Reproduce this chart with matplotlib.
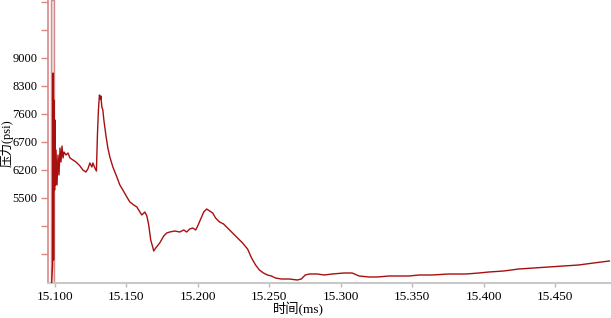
import numpy as np
import matplotlib
matplotlib.use('Agg')
import matplotlib.pyplot as plt

# pressure trace
time_ms = [15.0976, 15.0983, 15.0986, 15.0990, 15.0993, 15.0997, 15.1000, 15.1003,
           15.1007, 15.1014, 15.1021, 15.1028, 15.1035, 15.1042, 15.1049, 15.1056,
           15.1063, 15.1077, 15.1091, 15.1105, 15.1126, 15.1147, 15.1175, 15.1195,
           15.1216, 15.1230, 15.1244, 15.1258, 15.1265, 15.1279, 15.1290, 15.1297,
           15.1304, 15.1311, 15.1318, 15.1321, 15.1328, 15.1335, 15.1342, 15.1356,
           15.1370, 15.1384, 15.1405, 15.1433, 15.1454, 15.1475, 15.1503, 15.1524,
           15.1552, 15.1573, 15.1594, 15.1608, 15.1629, 15.1643, 15.1656, 15.1670,
           15.1684, 15.1691, 15.1705, 15.1733, 15.1761, 15.1782, 15.1803, 15.1838,
           15.1873, 15.1901, 15.1922, 15.1943, 15.1964, 15.1985, 15.1999, 15.2020,
           15.2041, 15.2062, 15.2083, 15.2104, 15.2124, 15.2152, 15.2180, 15.2208,
           15.2243, 15.2278, 15.2313, 15.2348, 15.2376, 15.2404, 15.2431, 15.2459,
           15.2487, 15.2515, 15.2543, 15.2585, 15.2640, 15.2696, 15.2724, 15.2752,
           15.2780, 15.2836, 15.2885, 15.2940, 15.3024, 15.3080, 15.3129, 15.3199,
           15.3255, 15.3338, 15.3408, 15.3478, 15.3548, 15.3639, 15.3757, 15.3876,
           15.3967, 15.4037, 15.4141, 15.4246, 15.4351, 15.4455, 15.4560, 15.4665,
           15.4770, 15.4881]
pressure = [3375, 3825, 8625, 3950, 7950, 5700, 7450, 5825,
            6700, 5825, 6575, 6075, 6750, 6400, 6800, 6500,
            6650, 6575, 6625, 6500, 6450, 6400, 6300, 6200,
            6150, 6225, 6375, 6275, 6375, 6250, 6175, 7075,
            7700, 8075, 7975, 8050, 7775, 7700, 7450, 7075,
            6750, 6525, 6275, 6025, 5825, 5700, 5525, 5400,
            5325, 5275, 5150, 5075, 5150, 5050, 4825, 4450,
            4275, 4175, 4250, 4375, 4550, 4625, 4650, 4675,
            4650, 4700, 4650, 4725, 4750, 4700, 4800, 4975,
            5150, 5225, 5175, 5125, 5000, 4900, 4850, 4750,
            4625, 4500, 4375, 4225, 4000, 3825, 3700, 3625,
            3575, 3550, 3500, 3475, 3475, 3450, 3475, 3575,
            3600, 3600, 3575, 3600, 3625, 3625, 3550, 3525,
            3525, 3550, 3550, 3550, 3575, 3575, 3600, 3600,
            3625, 3650, 3675, 3725, 3750, 3775, 3800, 3825,
            3875, 3925]

# axis ticks (equally spaced, labels as printed on the original)
y_ticks = [10400, 9700, 9000, 8300, 7600, 6900, 6200, 5500, 4800, 4100]
y_labels = ['', '', '9000', '8300', '7600', '6700', '6200', '5500', '', '']
x_ticks = [15.10, 15.15, 15.20, 15.25, 15.30, 15.35, 15.40, 15.45]
x_labels = ['15.100', '15.150', '15.200', '15.250', '15.300', '15.350', '15.400', '15.450']

fonts = ['Liberation Serif', 'Noto Sans CJK SC']
pink = '#d98888'

fig = plt.figure(figsize=(6.11, 3.18), dpi=100)
ax = fig.add_axes([48 / 611, 35 / 318, 1 - 48 / 611, 1 - 35 / 318])

ax.axvspan(15.0974, 15.0995, facecolor='#e6e6e6', edgecolor=pink, lw=1.0, zorder=1)
ax.plot(time_ms, pressure, color='#a80f0f', lw=1.0, zorder=3)

ax.set_xlim(15.0951, 15.4892)
ax.set_ylim(3375, 10450)

ax.set_yticks(y_ticks)
ax.set_yticklabels(y_labels, fontfamily=fonts, fontsize=9)
ax.set_xticks(x_ticks)
ax.set_xticklabels(x_labels, fontfamily=fonts, fontsize=9.5)
ax.tick_params(axis='y', length=5, color=pink, width=1, pad=2.5)
ax.tick_params(axis='x', length=3, color='#bbbbbb', width=1, pad=3)

for side in ['top', 'right']:
    ax.spines[side].set_visible(False)
ax.spines['left'].set_color(pink)
ax.spines['left'].set_linewidth(1.2)
ax.spines['bottom'].set_color('#c8c8c8')
ax.spines['bottom'].set_linewidth(1.5)

fig.text(6.5 / 611, 1 - 143 / 318, '压力(psi)', family=fonts, fontsize=9,
         rotation=90, ha='center', va='center')
fig.text(298 / 611, 1 - 309 / 318, '时间(ms)', family=fonts, fontsize=9.5,
         ha='center', va='center')

fig.savefig('out.png', dpi=100)
